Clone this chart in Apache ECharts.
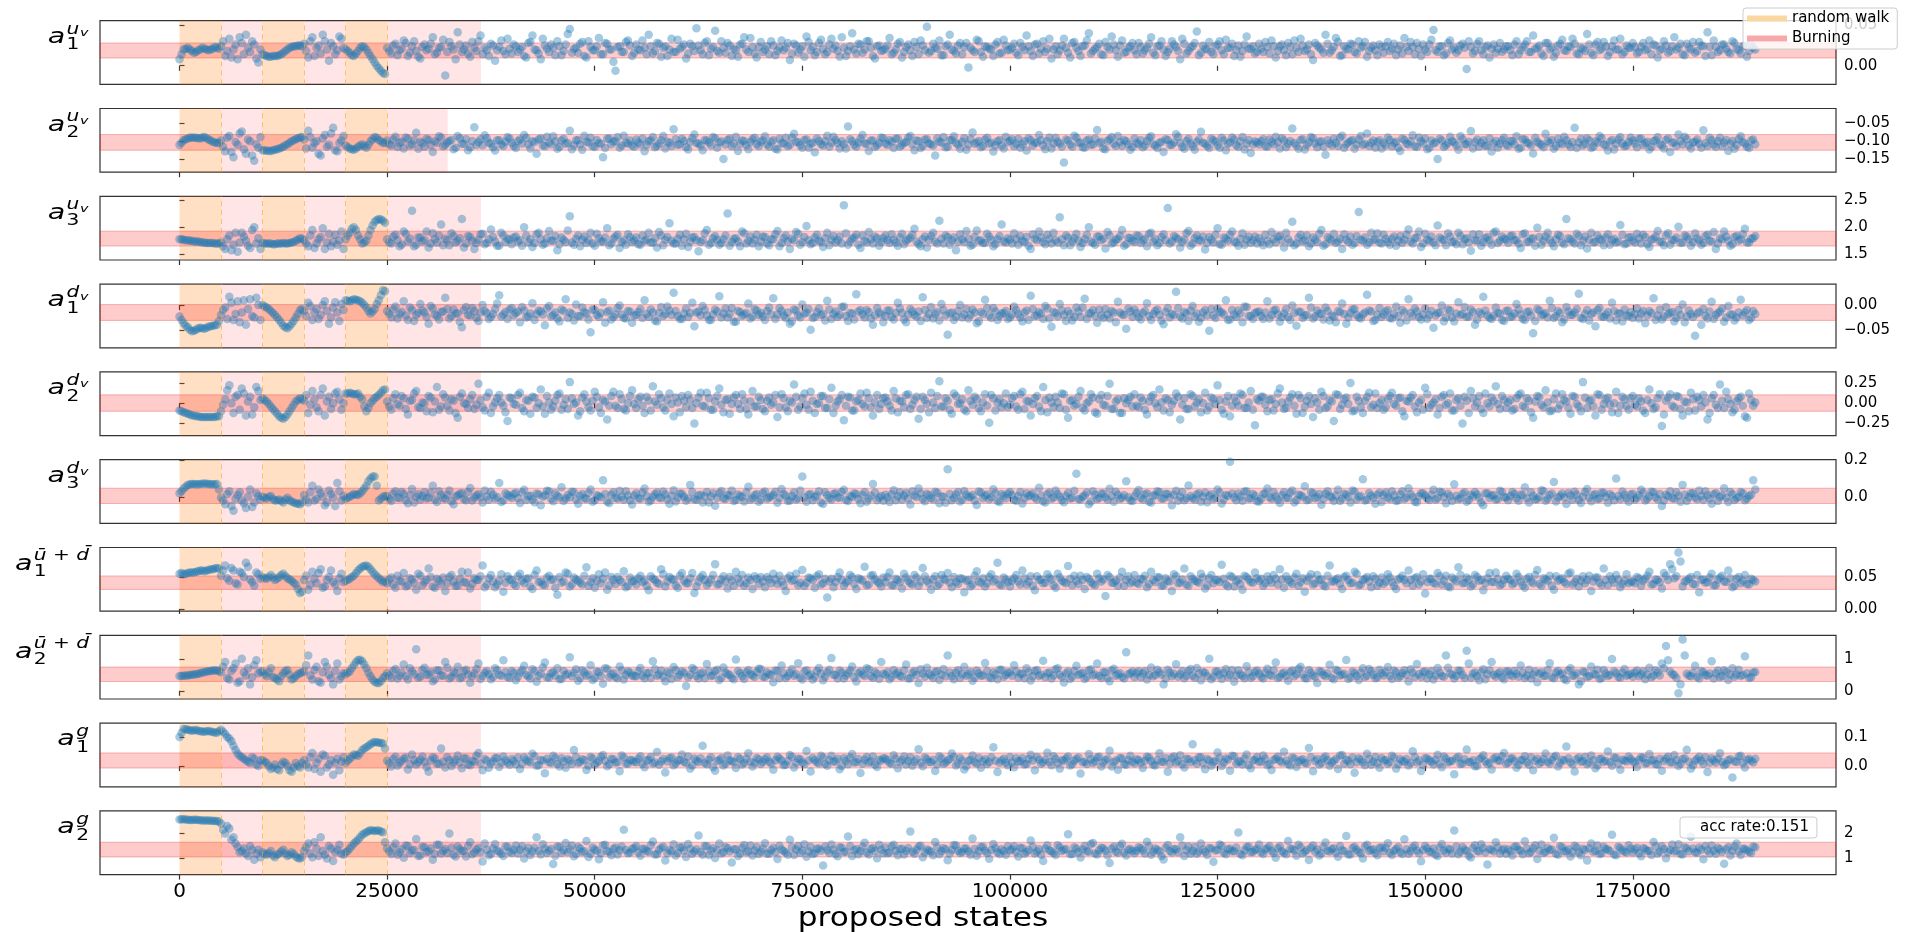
<!DOCTYPE html>
<html>
<head>
<meta charset="utf-8">
<title>MCMC parameter traces</title>
<script src="https://cdn.jsdelivr.net/npm/echarts@6/dist/echarts.min.js"></script>
<style>
  html, body { margin: 0; padding: 0; background: #fff; }
  #chart { width: 1907px; height: 932px; }
</style>
</head>
<body>
<div id="chart"></div>
<script>
// ---------------------------------------------------------------------------
// Data
// ---------------------------------------------------------------------------
// One sample is stored every STEP proposed states; the samples of each chain
// are kept in two arrays, the even slots (2i * STEP) and the odd slots
// ((2i + 1) * STEP).
const STEP = 250;

const xTicks = [0, 25000, 50000, 75000, 100000, 125000, 150000, 175000];
const xRange = [-9574, 199470];

// Sampler phases
const randomWalkSpans = [[0, 5000], [10000, 15000], [20000, 25000]];
const burningSpans = [[5000, 10000], [15000, 20000], [25000, null]];
const burningEnd = [36300, 32300, 36300, 36300, 36300, 36300, 36300, 36300, 36300, 36300];
const phaseEdges = [5000, 10000, 15000, 20000, 25000];

// Parameter names: a with a superscript (with its own index) and a subscript
const paramLabels = [
  { sup: 'u', supSub: 'v', sub: '1' },
  { sup: 'u', supSub: 'v', sub: '2' },
  { sup: 'u', supSub: 'v', sub: '3' },
  { sup: 'd', supSub: 'v', sub: '1' },
  { sup: 'd', supSub: 'v', sub: '2' },
  { sup: 'd', supSub: 'v', sub: '3' },
  { sup: 'ū + d\u0304', supSub: '', sub: '1' },
  { sup: 'ū + d\u0304', supSub: '', sub: '2' },
  { sup: 'g', supSub: '', sub: '1' },
  { sup: 'g', supSub: '', sub: '2' }
];

// Target band per parameter
const bandLow  = [0.0095, -0.125, 1.655, -0.031, -0.099, -0.036, 0.0305, 0.29, -0.007, 1.064];
const bandHigh = [0.028,  -0.081, 1.927,  0.001,  0.103,  0.047, 0.0515, 0.74,  0.045, 1.652];

// Y axes
const yMin = [-0.0229, -0.187, 1.40, -0.0866, -0.399, -0.144, -0.0036, -0.257, -0.0717, 0.36];
const yMax = [0.0553, -0.0075, 2.565, 0.0426, 0.386, 0.2016, 0.096, 1.733, 0.148, 2.904];
const yTicks = [
  [0.00, 0.05],
  [-0.15, -0.10, -0.05],
  [1.5, 2.0, 2.5],
  [-0.05, 0.00],
  [-0.25, 0.00, 0.25],
  [0.0, 0.2],
  [0.00, 0.05],
  [0, 1],
  [0.0, 0.1],
  [1, 2]
];
const yDecimals = [2, 2, 1, 2, 2, 1, 2, 0, 1, 0];

// Chain values, stored as integers; traceUnits gives the value of one unit.
const traceUnits = [0.001, 0.001, 0.01, 0.001, 0.01, 0.001, 0.001, 0.01, 0.001, 0.01];

const a1_uv_even = [
  8, 20, 22, 18, 17, 20, 21, 19, 21, 22,
  24, 12, 33, 20, 8, 28, 38, 17, 26, 4,
  14, 12, 11, 12, 13, 16, 20, 23, 24, 25,
  27, 10, 35, 22, 15, 30, 6, 24, 19, 33,
  20, 16, 12, 18, 24, 20, 12, 4, -3, -9,
  22, 15, 27, 19, 31, 12, 24, 18, 9, 26, 21, 35, 16, 23, -12, 29, 20, 41, 17, 25, 11, 22, 30, 14, 19, 27, 6, 23, 18, 33,
  15, 24, 20, 12, 28, 37, 19, 8, 25, 17, 22, 30, 13, 26, 45, 21, 16, 29, 10, 23, 19, 34, 14, 27, 20, -6, 24, 17, 31, 12,
  26, 19, 22, 38, 15, 28, 11, 24, 20, 17, 32, 23, 9, 27, 18, 25, 14, 30, 21, 43, 16, 22, 28, 12, 19, 26, 35, 17, 23, 10,
  29, 20, 14, 25, 18, 31, 22, 7, 27, 16, 24, 36, 19, 13, 28, 21, 17, 33, 25, 11, 22, 18, 40, 15, 26, 20, 30, 12, 24, 18,
  21, 34, 16, 27, 10, 23, 19, 29, 14, 25, 48, 18, 22, 31, 13, 26, 20, 15, 28, 23, -2, 19, 32, 17, 24, 21, 12, 29, 16, 25,
  20, 27, 13, 23, 37, 18, 26, 15, 30, 21, 9, 24, 19, 33, 16, 28, 22, 12, 25, 40, 18, 23, 14, 29, 20, 26, 11, 31, 17, 24,
  19, 28, 15, 22, 35, 13, 25, 20, 17, 30, 23, 8, 27, 18, 24, 42, 16, 21, 29, 14, 26, 19, 32, 22, 12, 25, 18, 36, 21, 15,
  27, 17, 23, 31, 10, 24, 19, 28, 14, 22, 33, 18, 26, 7, 25, 20, 38, 16, 23, 29, 13, 21, 27, 17, 30, 24, 11, 22, 19, 26,
  16, 29, 21, 13, 25, 34, 18, 23, 28, 12, 20, 26, 44, 17, 24, 15, 31, 22, 19, 27, -4, 23, 18, 30, 14, 25, 21, 16, 28, 20,
  24, 13, 30, 19, 26, 17, 37, 22, 15, 28, 20, 11, 25, 32, 18, 23, 27, 14, 21, 39, 16, 26, 19, 29, 12, 24, 20, 33, 17, 22,
  28, 15, 23, 19, 31, 26, 10, 21, 25, 18, 35, 22, 14, 27, 20, 16, 29, 24, 41, 13, 23, 19, 26, 17, 30, 21, 15, 25, 18, 22
];
const a1_uv_odd = [
  14, 21, 20, 16, 19, 22, 20, 20, 23, 21,
  30, 18, 10, 26, 35, 14, 22, 30, 9, 20,
  13, 11, 12, 12, 14, 18, 22, 24, 25, 24,
  18, 30, 12, 25, 38, 20, 28, 14, 36, 22,
  18, 13, 15, 22, 23, 16, 8, 0, -6, -10,
  18, 25, 13, 21, 28, 16, 30, 11, 23, 19, 27, 14, 22, 32, 17, 24, 8, 26, 20, 15, 29, 18, 37, 22, 12, 25, 19, 31, 14, 21,
  26, 17, 23, 10, 29, 20, 15, 33, 21, 26, 13, 24, 18, 39, 16, 22, 27, 12, 30, 19, 24, 14, 28, 20, 5, 23, 17, 29, 25, 16,
  20, 31, 14, 24, 18, 27, 22, 12, 33, 17, 21, 26, 15, 24, 46, 19, 28, 13, 23, 18, 30, 16, 25, 21, 11, 27, 20, 34, 15, 23,
  17, 24, 30, 13, 22, 19, 28, 15, 25, 20, 11, 29, 23, 17, 32, 14, 26, 21, 18, 35, 12, 24, 20, 27, 16, 30, 22, 9, 25, 19,
  25, 14, 20, 29, 17, 26, 12, 23, 31, 19, 16, 27, 21, 13, 24, 38, 18, 25, 14, 28, 22, 17, 30, 11, 23, 20, 26, 15, 32, 19,
  22, 16, 28, 19, 24, 12, 27, 21, 17, 33, 20, 14, 25, 22, 10, 29, 18, 24, 31, 15, 21, 27, 13, 23, 36, 19, 25, 16, 22, 28,
  14, 23, 19, 27, 16, 24, 30, 12, 21, 26, 18, 33, 15, 22, 28, 13, 25, 20, 17, 24, 30, 14, 22, 27, 19, 11, 26, 21, 24, 17,
  21, 29, 15, 24, 18, 26, 13, 23, 31, 17, 25, 20, 14, 28, 22, 16, 27, 19, 34, 12, 24, 20, 26, 15, 22, 29, 18, 25, 13, 23,
  24, 18, 27, 20, 15, 23, 29, 14, 21, 26, 17, 32, 19, 24, 13, 28, 20, 16, 25, 22, 30, 15, 27, 19, 23, 10, 26, 21, 17, 24,
  19, 26, 14, 23, 30, 17, 21, 25, 12, 28, 22, 16, 27, 19, 24, 33, 15, 22, 18, 26, 13, 29, 21, 24, 17, 31, 20, 14, 25, 22,
  23, 17, 28, 21, 14, 25, 19, 30, 16, 24, 20, 27, 13, 22, 29, 18, 25, 12, 23, 31, 17, 26, 21, 15, 28, 19, 24, 11, 27, 20
];

const a2_uv_even = [
  -110, -97, -92, -89, -90, -92, -88, -95, -101, -105,
  -98, -128, -85, -145, -110, -72, -135, -100, -155, -118,
  -125, -126, -127, -124, -120, -115, -108, -100, -94, -89,
  -95, -70, -118, -100, -140, -82, -110, -62, -128, -98,
  -112, -120, -124, -115, -108, -118, -100, -88, -96, -105,
  -98, -112, -87, -105, -120, -93, -108, -76, -101, -115, -96, -130, -104, -89, -110, -99, -122, -85, -107, -94, -117, -60, -102, -111, -91, -106, -126, -97, -113, -88,
  -104, -119, -95, -82, -109, -100, -135, -92, -114, -103, -86, -121, -98, -107, -70, -111, -96, -124, -101, -90, -116, -105, -145, -93, -108, -99, -118, -84, -106, -112,
  -95, -109, -128, -100, -88, -113, -97, -120, -104, -66, -110, -93, -117, -102, -81, -106, -125, -98, -111, -91, -103, -150, -96, -114, -87, -107, -99, -122, -94, -108,
  -101, -86, -115, -97, -123, -105, -90, -110, -79, -102, -118, -95, -107, -131, -99, -112, -84, -104, -96, -120, -108, -58, -100, -115, -93, -106, -127, -98, -111, -89,
  -106, -97, -119, -92, -110, -102, -85, -125, -99, -113, -94, -108, -140, -101, -88, -116, -96, -105, -121, -91, -109, -75, -103, -117, -95, -107, -129, -100, -112, -87,
  -99, -114, -93, -108, -126, -97, -104, -82, -111, -100, -120, -90, -106, -160, -98, -115, -89, -103, -118, -95, -109, -68, -101, -122, -94, -107, -85, -113, -100, -124,
  -92, -108, -117, -99, -86, -112, -104, -130, -96, -110, -80, -105, -121, -93, -114, -101, -73, -107, -119, -97, -111, -90, -125, -103, -95, -116, -88, -106, -133, -100,
  -109, -94, -115, -102, -87, -120, -98, -107, -64, -112, -96, -123, -103, -91, -117, -100, -138, -106, -93, -113, -84, -108, -99, -121, -95, -110, -78, -104, -118, -97,
  -105, -89, -114, -101, -127, -96, -109, -83, -116, -100, -92, -119, -106, -150, -98, -111, -87, -103, -124, -94, -108, -71, -102, -115, -97, -112, -129, -99, -107, -90,
  -113, -100, -86, -118, -95, -106, -134, -101, -110, -79, -104, -121, -93, -108, -97, -116, -62, -103, -112, -91, -119, -100, -85, -109, -126, -96, -107, -88, -114, -102,
  -98, -117, -92, -105, -123, -100, -88, -111, -96, -130, -103, -81, -109, -94, -120, -101, -107, -69, -113, -97, -116, -90, -104, -127, -99, -110, -86, -106, -119, -95
];
const a2_uv_odd = [
  -104, -94, -90, -90, -91, -89, -91, -98, -103, -104,
  -115, -90, -130, -102, -78, -122, -95, -140, -108, -88,
  -126, -127, -125, -122, -118, -111, -104, -97, -91, -88,
  -120, -88, -105, -135, -92, -115, -78, -125, -105, -85,
  -116, -122, -120, -112, -113, -110, -94, -90, -100, -104,
  -108, -95, -116, -101, -89, -112, -98, -121, -105, -93, -110, -100, -86, -114, -103, -96, -118, -91, -107, -125, -99, -110, -94, -83, -104, -117, -97, -109, -101, -92,
  -113, -99, -106, -90, -120, -102, -95, -111, -87, -108, -100, -116, -93, -105, -122, -97, -109, -84, -103, -114, -96, -107, -119, -92, -101, -88, -112, -104, -98, -115,
  -103, -92, -110, -97, -117, -106, -85, -101, -113, -94, -108, -99, -123, -91, -105, -112, -96, -104, -88, -118, -100, -109, -93, -107, -127, -98, -111, -102, -90, -114,
  -97, -109, -101, -121, -93, -106, -114, -89, -102, -111, -96, -118, -104, -92, -108, -99, -115, -87, -105, -100, -120, -94, -110, -103, -82, -107, -98, -116, -105, -91,
  -110, -101, -93, -115, -104, -89, -108, -98, -119, -95, -106, -112, -91, -103, -117, -97, -86, -109, -101, -124, -94, -107, -99, -113, -90, -104, -111, -96, -120, -102,
  -94, -107, -118, -100, -91, -112, -103, -97, -122, -89, -106, -101, -115, -95, -109, -84, -104, -117, -98, -110, -92, -105, -121, -99, -88, -113, -102, -96, -108, -116,
  -105, -97, -112, -90, -108, -119, -101, -94, -110, -103, -87, -116, -99, -107, -124, -95, -104, -113, -92, -101, -118, -98, -106, -89, -111, -100, -123, -96, -109, -103,
  -100, -114, -95, -108, -102, -91, -117, -99, -105, -121, -94, -110, -88, -106, -101, -115, -97, -112, -104, -90, -119, -103, -96, -109, -85, -107, -113, -98, -102, -120,
  -111, -96, -104, -118, -92, -107, -100, -114, -89, -106, -122, -98, -103, -93, -116, -105, -99, -111, -86, -108, -101, -120, -95, -104, -113, -91, -106, -118, -97, -110,
  -99, -108, -121, -94, -103, -112, -90, -106, -117, -100, -96, -113, -105, -87, -109, -102, -119, -93, -107, -98, -115, -104, -91, -111, -101, -123, -95, -106, -112, -89,
  -106, -93, -110, -101, -116, -97, -108, -120, -92, -104, -113, -99, -87, -111, -103, -95, -118, -105, -90, -109, -100, -114, -96, -107, -121, -94, -102, -115, -98, -108
];

const a3_uv_even = [
  178, 177, 176, 175, 174, 173, 172, 171, 171, 170,
  172, 160, 185, 168, 155, 190, 175, 162, 200, 180,
  171, 170, 170, 169, 170, 171, 170, 172, 175, 180,
  176, 165, 195, 170, 182, 160, 188, 174, 168, 192,
  178, 190, 200, 185, 170, 175, 195, 210, 215, 212,
  178, 170, 186, 165, 192, 174, 230, 168, 181, 176, 163, 189, 172, 205, 179, 167, 184, 175, 215, 170, 182, 160, 177, 188, 171, 196, 174, 166, 185, 179,
  169, 183, 176, 200, 172, 164, 187, 178, 170, 193, 175, 158, 181, 173, 220, 168, 185, 177, 171, 190, 166, 180, 174, 198, 170, 183, 162, 176, 187, 173,
  181, 168, 175, 190, 172, 163, 185, 177, 207, 170, 179, 166, 188, 174, 182, 156, 176, 195, 171, 184, 168, 178, 225, 173, 180, 165, 189, 175, 170, 186,
  174, 182, 167, 178, 193, 171, 185, 160, 176, 188, 173, 202, 169, 181, 175, 164, 190, 177, 172, 183, 240, 168, 179, 186, 162, 175, 191, 170, 180, 173,
  185, 171, 177, 166, 188, 175, 181, 197, 169, 178, 163, 184, 174, 212, 170, 182, 176, 158, 187, 173, 179, 168, 194, 176, 171, 183, 165, 178, 205, 172,
  177, 189, 168, 175, 182, 160, 179, 192, 173, 186, 170, 176, 218, 167, 181, 174, 188, 164, 178, 200, 171, 183, 176, 161, 185, 172, 179, 195, 169, 180,
  173, 184, 176, 165, 190, 178, 171, 187, 235, 174, 181, 163, 177, 193, 170, 185, 175, 159, 182, 172, 198, 168, 179, 186, 174, 166, 189, 177, 171, 183,
  180, 167, 175, 191, 172, 184, 163, 178, 210, 170, 186, 176, 165, 181, 173, 195, 169, 179, 188, 174, 160, 177, 183, 171, 228, 175, 168, 190, 178, 172,
  186, 173, 179, 166, 184, 177, 196, 170, 181, 164, 188, 175, 172, 203, 178, 167, 183, 174, 190, 169, 180, 157, 176, 187, 173, 182, 168, 192, 175, 179,
  171, 185, 176, 162, 189, 174, 180, 199, 168, 183, 177, 165, 186, 172, 215, 178, 170, 184, 175, 161, 190, 173, 179, 167, 187, 176, 172, 204, 169, 181,
  175, 188, 170, 182, 164, 179, 193, 173, 185, 168, 177, 201, 172, 183, 166, 189, 176, 171, 186, 174, 160, 180, 192, 175, 169, 184, 178, 197, 172, 180
];
const a3_uv_odd = [
  178, 176, 175, 174, 174, 172, 171, 171, 170, 170,
  165, 178, 158, 190, 172, 183, 166, 195, 170, 160,
  170, 170, 169, 170, 170, 170, 171, 173, 177, 179,
  170, 185, 162, 178, 198, 172, 165, 186, 176, 160,
  185, 197, 195, 178, 172, 185, 203, 213, 214, 208,
  172, 183, 176, 168, 188, 179, 165, 181, 174, 192, 170, 178, 185, 167, 176, 189, 172, 180, 163, 184, 175, 171, 187, 169, 178, 182, 166, 190, 173, 177,
  181, 174, 166, 185, 178, 171, 190, 168, 180, 175, 184, 169, 177, 194, 172, 179, 165, 183, 176, 170, 188, 174, 181, 167, 179, 186, 173, 168, 182, 176,
  169, 185, 177, 172, 180, 191, 167, 182, 175, 170, 186, 178, 164, 181, 176, 173, 189, 168, 180, 177, 171, 185, 166, 179, 174, 192, 170, 183, 177, 165,
  183, 170, 178, 187, 165, 180, 174, 179, 191, 168, 182, 176, 171, 186, 173, 180, 167, 184, 176, 170, 189, 174, 181, 168, 185, 172, 178, 183, 166, 180,
  176, 187, 172, 181, 169, 178, 186, 174, 165, 183, 177, 190, 170, 179, 185, 168, 181, 173, 178, 193, 166, 182, 175, 171, 188, 177, 169, 184, 174, 180,
  170, 178, 184, 173, 166, 187, 176, 181, 169, 179, 190, 172, 178, 185, 167, 180, 175, 171, 186, 174, 168, 183, 179, 191, 170, 177, 184, 166, 181, 175,
  185, 171, 179, 188, 174, 167, 182, 176, 170, 184, 178, 173, 189, 166, 180, 176, 183, 171, 177, 186, 169, 181, 175, 192, 172, 179, 168, 183, 176, 170,
  174, 186, 169, 178, 183, 176, 190, 172, 167, 181, 174, 185, 170, 177, 188, 166, 182, 175, 171, 179, 187, 173, 168, 184, 177, 181, 172, 176, 189, 170,
  179, 168, 183, 175, 171, 186, 174, 180, 192, 170, 177, 183, 167, 181, 176, 189, 173, 169, 184, 178, 172, 187, 175, 166, 180, 176, 190, 171, 183, 177,
  184, 176, 170, 187, 173, 179, 166, 182, 175, 190, 171, 178, 184, 169, 180, 174, 188, 167, 183, 177, 172, 185, 176, 181, 168, 179, 174, 186, 170, 182,
  172, 180, 186, 169, 177, 183, 174, 167, 189, 176, 181, 171, 185, 178, 173, 180, 168, 184, 175, 191, 170, 178, 183, 166, 182, 175, 187, 172, 179, 184
];

const a1_dv_even = [
  -23, -37, -45, -53, -50, -46, -48, -44, -42, -40,
  -20, -5, 17, -30, 8, -15, -40, 12, -25, 0,
  0, -5, -12, -20, -30, -42, -47, -38, -25, -10,
  -12, 5, -30, -8, -20, 8, -38, -5, -15, 2,
  10, 8, 12, 10, 5, -5, -17, -8, 10, 30,
  -12, -25, -3, -18, 8, -30, -10, -20, 2, -15, -38, -7, -22, -14, 15, -27, -9, -17, -45, -4, -21, -12, -32, 0, -16, -24, -8, 20, -19, -28,
  -6, -16, -35, -11, -23, 4, -18, -13, -41, -2, -20, -27, -9, 12, -15, -31, -22, -5, -17, -55, -10, -24, 6, -14, -29, -19, -1, -26, -12, -36,
  -20, -8, 10, -24, -15, -33, -4, -18, -11, 25, -22, -28, -7, -16, -43, -13, -2, -21, -30, -9, 18, -17, -25, -6, -34, -14, -19, 3, -23, -11,
  -16, -30, -5, 14, -19, -12, -26, -38, -9, -21, 1, -15, -50, -24, -7, -18, 9, -28, -13, -20, -3, -32, -17, 22, -10, -25, -14, -40, -6, -19,
  -22, -11, -29, 5, -16, -35, -8, -20, -13, 16, -26, -4, -18, -31, -10, -60, -15, -23, 0, -19, -27, -9, -37, -14, 11, -21, -6, -30, -17, -12,
  -25, -3, -18, -33, -11, 19, -22, -14, -28, -7, -44, -16, 2, -20, -12, -31, -5, -24, 13, -17, -10, -36, -21, -8, -27, -15, 7, -19, -48, -13,
  -9, -24, -16, 4, -30, -12, -20, -39, -6, -18, 27, -23, -14, -32, -2, -17, -26, -10, -52, -21, -7, -15, 10, -29, -19, -11, -35, -4, -22, -16,
  -13, -28, 8, -20, -9, -34, -17, -24, -1, -42, -14, -21, 15, -27, -11, -18, -5, -31, -23, -12, 3, -38, -16, -8, -25, -19, 21, -13, -30, -6,
  -19, -10, -27, -3, -36, -15, 12, -22, -13, -29, -7, -20, -46, -16, -1, -25, -11, -33, 6, -18, -24, -9, -40, -14, 17, -21, -28, -5, -17, -32,
  -11, -23, 2, -19, -30, -13, -57, -8, -21, -16, 9, -26, -12, -35, -4, -20, -15, 23, -28, -10, -18, -43, -6, -24, -14, 5, -31, -17, -9, -22,
  -26, -7, -17, -37, -12, 14, -21, -29, -4, -16, -33, -10, 1, -23, -18, -62, -14, -8, -27, 7, -20, -13, -34, -2, -19, -25, 11, -15, -30, -12
];
const a1_dv_odd = [
  -30, -42, -50, -52, -47, -47, -46, -43, -41, -32,
  -10, -28, 5, -18, -35, 10, -8, -22, 15, -30,
  -3, -8, -16, -25, -36, -45, -43, -32, -18, -8,
  -22, -2, -15, -28, 0, -12, -25, 6, -32, -10,
  9, 10, 11, 8, 0, -12, -13, 2, 20, 28,
  -18, -9, -27, -14, -21, -5, -32, -16, -11, -24, -2, -19, -29, -13, -8, -22, -17, -34, -10, -20, -6, -26, -15, -12, -28, -18, 3, -23, -14, -9,
  -21, -13, -4, -25, -17, -30, -11, -19, -7, -23, -15, -33, -12, -26, -18, 1, -22, -14, -29, -9, -20, -16, -36, -11, -24, -6, -19, -27, -13, -21,
  -14, -26, -18, -9, -31, -16, -22, -3, -20, -12, -28, -17, -24, 5, -15, -21, -10, -30, -19, -13, -25, -7, -18, -34, -12, -22, -16, -27, -8, -20,
  -23, -12, -19, -28, -6, -21, -15, -33, -11, -25, -17, -8, -26, -14, -20, -31, -9, -18, -24, -4, -22, -16, -29, -13, -19, -10, -27, -21, -15, -35,
  -11, -24, -16, -7, -29, -19, -13, -23, -32, -10, -18, -27, -14, 2, -21, -17, -30, -12, -25, -8, -20, -15, -33, -18, -6, -26, -13, -22, -16, -28,
  -19, -10, -25, -15, -30, -8, -21, -17, -2, -27, -14, -23, -11, -32, -18, -24, -13, -5, -28, -16, -22, -9, -26, -19, -12, -35, -15, -20, -7, -24,
  -16, -29, -12, -22, -18, -9, -31, -14, -25, -20, -6, -27, -17, -11, -23, -34, -15, -21, -8, -26, -13, -19, -30, -10, -24, -17, -3, -22, -28, -14,
  -22, -15, -27, -11, -19, -24, -8, -30, -16, -13, -26, -20, -5, -23, -17, -29, -12, -21, -35, -14, -18, -25, -9, -20, -27, -15, -11, -32, -19, -24,
  -13, -26, -18, -22, -10, -31, -16, -7, -24, -19, -28, -12, -21, -15, -33, -9, -25, -17, -20, -4, -23, -14, -29, -18, -11, -26, -21, -16, -30, -12,
  -24, -17, -9, -28, -14, -21, -32, -11, -19, -25, -6, -22, -16, -29, -13, -20, -8, -26, -18, -31, -15, -10, -23, -19, -27, -12, -17, -33, -21, -14,
  -18, -27, -12, -21, -16, -30, -9, -23, -19, -14, -26, -20, -35, -11, -24, -17, -40, -22, -13, -28, -16, -7, -25, -19, -31, -15, -21, -10, -26, -18
];

const a2_dv_even = [
  -9, -11, -13, -15, -16, -17, -17, -17, -17, -16,
  -10, 5, 22, -12, 10, 18, -15, 8, -5, 15,
  6, 2, -4, -10, -16, -19, -14, -6, 2, 6,
  3, -12, 15, -5, 10, -15, 8, 0, 14, -8,
  12, 13, 11, 12, 5, -10, 0, 6, 10, 16,
  2, -8, 11, -3, 6, -14, 4, 15, -6, 0, 9, -11, 20, -4, 7, -9, 3, -18, 12, -1, 5, -7, 24, -5, 8, -12, 1, 10, -3, -22,
  6, -2, 13, -10, 3, 8, -6, 17, -13, 1, -4, 10, -8, 5, 26, -1, -15, 7, 2, -9, 14, -5, 4, -20, 9, -3, 11, -7, 0, 16,
  -6, 8, -12, 3, 21, -2, 6, -9, 12, -16, 1, 9, -5, 4, -25, 7, -3, 13, -8, 2, 18, -11, 5, -1, 10, -7, 3, -14, 15, -4,
  4, -10, 7, 1, -17, 11, -5, 3, 23, -8, 6, -2, 14, -12, 0, 9, -6, 19, -3, 5, -21, 8, -9, 2, 12, -4, 6, -15, 10, -1,
  7, -3, 15, -11, 2, 10, -7, 4, -19, 8, -1, 13, -6, 27, -4, 3, -13, 9, 0, -8, 16, -2, 5, -10, 11, -24, 6, 1, -5, 12,
  -2, 9, -8, 14, 3, -15, 6, -4, 20, -11, 1, 8, -6, 11, -18, 4, -1, 15, -9, 2, 7, -13, 10, -3, 24, -7, 5, -12, 0, 8,
  11, -5, 3, -14, 8, 0, 17, -9, 4, -2, 12, -20, 6, -7, 9, 1, -11, 13, -4, 5, 22, -8, 2, -16, 7, -3, 10, -6, 15, -27,
  3, 8, -10, 5, -1, 18, -7, 2, 11, -13, 6, -4, 9, -17, 1, 14, -6, 4, -22, 10, -2, 7, 25, -9, 3, -12, 8, -5, 12, 0,
  -8, 5, 13, -3, 7, -16, 2, 10, -11, 4, 19, -6, 1, -14, 8, -2, 12, -9, 6, -25, 3, 15, -4, 9, -12, 0, 7, 21, -7, 4,
  1, -9, 6, 12, -5, 3, -18, 9, -2, 16, -10, 5, -7, 11, 2, -13, 8, -4, 26, -6, 4, -15, 10, -1, 7, -11, 14, -3, 5, -8,
  9, -4, 2, -12, 17, -7, 6, -28, 3, 11, -5, 8, -15, 1, 13, -9, 4, 10, -20, 6, -2, 23, -6, 5, -11, 2, 8, -16, 12, -3
];
const a2_dv_odd = [
  -10, -12, -14, -15, -16, -17, -17, -17, -17, -16,
  -2, 16, 0, 8, -8, 12, 2, -14, 20, 4,
  4, -1, -7, -13, -18, -17, -10, -2, 4, 5,
  10, -2, 5, -10, 18, 2, -7, 12, 5, 0,
  12, 12, 11, 8, -4, -6, 3, 8, 13, 17,
  -4, 6, -1, 9, -7, 3, 12, -5, 1, -10, 7, 2, -8, 11, -3, 5, -12, 8, 0, -6, 10, -2, 4, -9, 13, -4, 6, 1, -11, 7,
  -1, 10, -6, 4, -13, 7, 0, -4, 9, -8, 3, 12, -2, -7, 6, 1, -10, 11, -5, 3, 8, -12, 2, -3, 14, -6, 5, -9, 9, -1,
  5, -3, 8, -9, 2, 11, -5, 4, -1, 7, -11, 3, 10, -6, 0, 13, -4, 6, -8, 9, -2, 4, -13, 7, -1, 11, -7, 2, -4, 8,
  -7, 3, -2, 10, -5, 6, -10, 1, 8, -4, 12, -8, 3, -1, 9, -6, 5, -12, 2, 10, -3, 7, -9, 4, -1, 13, -5, 1, -7, 6,
  2, -9, 6, 3, -5, 11, -2, 8, -7, 4, -11, 1, 9, -4, 6, -8, 12, -1, 5, -10, 3, 8, -6, 1, -3, 10, -9, 5, 0, -5,
  6, -4, 11, -7, 2, -1, 9, -10, 4, 7, -5, 1, 12, -8, 3, -3, 8, -6, 0, 11, -11, 5, -2, 9, -7, 2, -12, 6, 4, -4,
  -3, 7, -8, 2, 10, -5, 1, 6, -11, 3, 8, -2, -7, 11, -4, 5, 0, -9, 7, -1, 4, -13, 9, -3, 2, 12, -6, 1, -8, 5,
  8, -2, 4, -9, 12, 1, -6, 7, -3, 10, -12, 3, -1, 6, -8, 9, -4, 2, 11, -7, 5, -1, -10, 8, -5, 3, 13, -2, -6, 4,
  -5, 9, -1, 6, -10, 3, 7, -4, 1, -8, 11, -2, 5, -6, 10, 0, -9, 4, -3, 8, -12, 6, 1, -7, 12, -4, 3, -1, 9, -6,
  4, -7, 10, -3, 6, -11, 2, 8, -5, 1, -9, 12, -2, 4, -6, 9, -1, -10, 7, 3, -4, 11, -8, 5, -2, 0, -12, 8, -3, 6,
  -2, 6, -9, 4, 0, -5, 11, -14, 7, -3, 9, -7, 2, -10, 5, 8, -4, 1, -12, 10, -6, 3, 14, -1, -8, 6, -3, -18, 4, 1
];

const a3_dv_even = [
  20, 45, 65, 70, 68, 70, 72, 70, 68, 70,
  -5, -40, 30, -75, 10, -20, -60, 40, -30, 5,
  0, -10, 5, -20, -15, -30, -5, -25, -35, -40,
  10, -30, 60, -10, 20, -45, 35, -5, 75, -20,
  -10, 0, 15, 10, 30, 60, 100, 110, -20, 0,
  5, -22, 30, -8, 16, -35, 42, 0, -15, 25, -5, 60, -28, 10, -12, 35, -40, 8, 20, -18, 48, -3, 14, -30, 2, 28, -10, 75, -20, 12,
  -6, 22, -33, 38, 4, -14, 18, -45, 9, 30, -24, 6, 52, -9, -2, 26, -37, 15, -12, 40, -19, 3, 90, -27, 11, -5, 33, -16, 7, -42,
  19, -11, 45, -26, 1, 24, -7, 13, -38, 36, -3, 17, -21, 65, -13, 8, -30, 27, 2, -48, 21, -9, 10, 34, -17, 4, -25, 55, -6, 15,
  -14, 29, -4, 11, -32, 43, 6, -20, 23, -8, 110, -27, 16, -1, 31, -39, 9, -15, 20, -5, 38, -23, 0, 14, -34, 26, -10, 70, -18, 5,
  12, -28, 36, 3, -16, 21, -41, 8, 46, -11, 17, -6, 28, -35, 1, 150, -19, 13, -25, 32, -2, 10, -44, 24, 6, -13, 41, -22, 15, -8,
  27, -17, 4, -36, 19, 9, -3, 50, -24, 14, -10, 35, 0, -29, 22, -6, 125, -15, 7, -40, 30, -12, 18, -2, 44, -26, 11, -5, 85, -20,
  3, 37, -14, 20, -31, 8, 26, -9, 16, -46, 33, 1, -18, 62, -7, 13, -27, 23, 5, -12, 40, -36, 10, 190, -4, 18, -21, 30, -8, 6,
  -25, 15, 45, -11, 2, -33, 25, -6, 34, -19, 9, 58, -14, 21, -2, -43, 17, 4, -23, 38, -9, 12, -30, 29, 0, 95, -16, 7, -38, 22,
  10, -4, 31, -22, 14, -12, 47, -1, -29, 19, 6, -17, 39, -8, 24, -35, 3, 68, -13, 16, -26, 11, 27, -5, -45, 20, 8, -15, 33, -2,
  -18, 26, -7, 13, 52, -30, 4, -11, 36, -21, 9, 80, -3, 18, -39, 7, 28, -16, 1, 43, -24, 15, -9, 22, -32, 5, 100, -13, 11, -27,
  17, -6, 38, -20, 3, 25, -14, -50, 12, 30, -10, 6, 65, -23, 19, -4, 34, -17, 9, -37, 21, -1, 47, -28, 14, -8, 27, -19, 5, 90
];
const a3_dv_odd = [
  30, 55, 68, 70, 69, 71, 71, 69, 69, 40,
  -20, 15, -50, -10, 25, -35, 0, -55, 20, -15,
  -5, 0, -12, -18, -22, -15, -18, -30, -38, -30,
  -15, 25, -20, 40, 0, -30, 15, -50, 30, 5,
  -5, 8, 12, 20, 45, 85, 110, 60, -10, 5,
  -12, 18, -3, 27, -19, 9, -30, 14, 4, -9, 22, -15, 31, -6, 11, -24, 2, 17, -11, 26, -20, 7, -4, 35, -16, 12, -1, -28, 20, 3,
  15, -8, 24, -17, 6, -29, 13, 0, 33, -12, 19, -4, -22, 10, 28, -14, 5, -7, 21, -26, 9, -2, 16, -33, 25, -10, 1, 30, -18, 8,
  -7, 23, 4, -20, 14, -3, 29, -13, 6, -25, 18, 0, -9, 26, -16, 11, 3, -31, 20, -5, 32, -11, 7, -22, 13, -1, 24, -15, 9, -27,
  21, -10, 2, 28, -6, 16, -23, 5, -14, 34, -2, 12, -19, 8, -30, 25, -8, 15, -3, 27, -17, 4, 19, -12, 10, -26, 6, 23, -5, -21,
  -3, 14, -18, 25, 7, -9, 31, -1, 18, -24, 9, -13, 22, 2, -32, 16, -6, 27, -15, 11, 0, -20, 29, -8, 13, -2, 20, -28, 6, 17,
  10, -21, 26, -7, 3, 19, -14, 8, -30, 23, -4, 15, -18, 6, -9, 33, -12, 1, 24, -25, 12, -6, 18, -16, 5, 28, -11, 9, -2, -23,
  22, -5, 13, -27, 7, 30, -10, 17, -3, 11, -21, 26, -8, 4, -15, 20, 0, -29, 14, -4, 24, -13, 6, 18, -19, 2, 29, -9, 15, -24,
  -10, 19, -2, 27, -16, 9, -6, 22, -31, 12, 1, -18, 25, -7, 16, -12, 31, -3, 8, -23, 17, -1, 35, -14, 5, -20, 21, -5, 11, -28,
  24, -12, 7, -19, 30, -4, 14, -26, 3, 20, -9, 11, -15, 28, -1, 17, -22, 6, -8, 25, -17, 2, 13, -30, 19, -6, 9, -11, 26, -3,
  4, 16, -21, 9, -7, 25, -14, 1, 32, -10, 18, -25, 6, -3, 21, -16, 12, -33, 27, -5, 10, -12, 23, -1, 15, -19, 4, 29, -8, 13,
  -15, 7, 22, -11, 28, -4, 16, -20, 3, -8, 25, -26, 11, -2, 19, -13, 5, 31, -9, 14, -22, 8, -5, 26, -17, 1, 20, -10, 12, 40
];

const a1_ubar_dbar_even = [
  55, 54, 56, 57, 58, 60, 59, 61, 62, 64,
  52, 68, 44, 60, 38, 56, 72, 46, 36, 54,
  50, 47, 53, 45, 50, 55, 48, 44, 38, 25,
  45, 30, 58, 40, 62, 35, 50, 42, 28, 55,
  44, 47, 52, 60, 66, 68, 62, 54, 48, 42,
  40, 49, 33, 44, 56, 37, 46, 30, 52, 42, 63, 35, 47, 39, 28, 50, 43, 36, 58, 41, 32, 48, 45, 68, 38, 53, 34, 44, 27, 51,
  45, 36, 55, 40, 48, 31, 60, 43, 37, 52, 46, 22, 41, 57, 35, 49, 44, 38, 65, 42, 33, 54, 47, 30, 50, 39, 45, 59, 36, 43,
  38, 52, 44, 29, 47, 41, 62, 35, 50, 45, 33, 56, 40, 48, 25, 43, 53, 37, 46, 70, 39, 51, 32, 44, 58, 41, 36, 49, 31, 47,
  50, 34, 46, 55, 39, 43, 28, 52, 45, 37, 61, 41, 48, 33, 54, 40, 18, 47, 42, 57, 36, 44, 50, 31, 46, 66, 38, 53, 43, 35,
  42, 57, 37, 45, 32, 49, 40, 53, 36, 64, 44, 30, 51, 39, 47, 56, 34, 42, 48, 26, 45, 38, 59, 41, 35, 50, 43, 72, 37, 46,
  35, 48, 43, 60, 38, 51, 29, 45, 40, 54, 46, 33, 49, 42, 67, 37, 44, 52, 31, 47, 39, 55, 43, 20, 50, 41, 36, 58, 45, 40,
  53, 39, 46, 34, 58, 42, 49, 37, 44, 28, 51, 41, 63, 36, 47, 43, 55, 32, 48, 40, 45, 69, 38, 52, 35, 46, 30, 50, 42, 57,
  44, 36, 51, 41, 47, 62, 33, 45, 39, 55, 42, 27, 49, 38, 53, 46, 35, 68, 43, 48, 31, 52, 40, 58, 37, 45, 50, 34, 47, 41,
  39, 54, 42, 31, 48, 45, 60, 36, 50, 43, 24, 47, 41, 56, 38, 52, 34, 46, 65, 40, 49, 35, 53, 44, 29, 48, 42, 57, 37, 45,
  47, 38, 55, 43, 33, 50, 40, 61, 36, 46, 52, 30, 44, 48, 39, 57, 42, 35, 51, 45, 28, 49, 41, 63, 37, 46, 53, 34, 44, 40,
  43, 50, 36, 47, 58, 39, 45, 32, 52, 70, 48, 88, 35, 44, 50, 38, 26, 46, 42, 55, 37, 49, 43, 60, 34, 47, 40, 53, 38, 45
];
const a1_ubar_dbar_odd = [
  56, 55, 57, 57, 59, 60, 60, 62, 63, 63,
  60, 48, 64, 40, 58, 50, 66, 42, 57, 47,
  48, 50, 49, 47, 53, 51, 46, 41, 31, 27,
  52, 38, 47, 56, 33, 45, 60, 38, 48, 42,
  45, 50, 56, 63, 67, 66, 58, 51, 45, 43,
  46, 38, 52, 43, 35, 48, 41, 55, 37, 45, 50, 33, 44, 49, 40, 53, 36, 47, 42, 57, 39, 45, 51, 34, 48, 43, 38, 54, 41, 46,
  39, 51, 44, 47, 35, 53, 42, 38, 49, 45, 33, 50, 43, 55, 38, 46, 41, 52, 36, 48, 44, 40, 57, 37, 45, 50, 42, 34, 49, 44,
  48, 42, 36, 51, 45, 39, 54, 43, 47, 37, 52, 44, 40, 56, 35, 49, 45, 41, 53, 38, 46, 43, 50, 36, 47, 53, 40, 45, 51, 39,
  43, 50, 40, 46, 52, 37, 48, 44, 55, 41, 36, 49, 45, 51, 38, 47, 43, 34, 50, 45, 41, 53, 39, 48, 44, 37, 52, 46, 40, 49,
  50, 37, 47, 42, 55, 44, 38, 49, 43, 51, 40, 46, 36, 53, 45, 41, 50, 39, 47, 44, 35, 52, 43, 48, 40, 54, 46, 38, 49, 42,
  44, 53, 38, 48, 43, 36, 51, 46, 41, 49, 37, 55, 44, 40, 47, 52, 39, 45, 50, 42, 37, 48, 46, 53, 41, 44, 49, 36, 51, 43,
  41, 47, 52, 39, 45, 50, 36, 48, 43, 54, 40, 46, 38, 51, 44, 41, 49, 37, 53, 45, 42, 47, 35, 50, 44, 39, 52, 46, 41, 48,
  47, 40, 45, 53, 38, 46, 51, 42, 49, 36, 48, 44, 54, 40, 45, 37, 52, 43, 46, 39, 50, 45, 41, 55, 38, 47, 43, 51, 36, 49,
  43, 49, 36, 46, 52, 40, 45, 48, 38, 54, 42, 47, 39, 51, 44, 35, 49, 43, 53, 41, 46, 38, 50, 45, 40, 56, 42, 47, 39, 52,
  45, 41, 50, 37, 47, 43, 53, 39, 48, 44, 36, 51, 46, 42, 55, 38, 47, 44, 40, 52, 43, 49, 37, 45, 51, 41, 46, 39, 54, 43,
  40, 48, 44, 52, 38, 46, 42, 56, 45, 62, 51, 74, 43, 47, 39, 53, 45, 41, 49, 37, 46, 52, 42, 48, 36, 50, 44, 39, 47, 43
];

const a2_ubar_dbar_even = [
  46, 47, 48, 50, 52, 55, 58, 61, 63, 63,
  58, 90, 35, 70, 25, 100, 48, 20, 80, 55,
  60, 45, 70, 40, 30, 55, 65, 35, 45, 55,
  60, 110, 35, 75, 25, 90, 50, 20, 85, 45,
  52, 60, 80, 96, 92, 70, 45, 28, 24, 40,
  55, 40, 68, 47, 82, 35, 60, 130, 44, 72, 52, 30, 64, 48, 90, 38, 58, 75, 42, 66, 25, 54, 85, 46, 61, 36, 70, 50, 95, 43,
  62, 33, 57, 78, 45, 67, 28, 53, 88, 41, 59, 70, 37, 49, 105, 56, 31, 64, 47, 80, 40, 58, 22, 69, 51, 43, 76, 35, 60, 48,
  45, 71, 39, 56, 92, 47, 63, 30, 54, 74, 42, 60, 15, 50, 66, 38, 57, 84, 46, 61, 34, 73, 52, 41, 98, 55, 37, 65, 48, 59,
  68, 43, 52, 27, 62, 79, 40, 56, 47, 86, 35, 64, 51, 44, 71, 33, 58, 102, 49, 63, 38, 55, 76, 29, 60, 46, 67, 41, 53, 90,
  50, 36, 65, 57, 44, 82, 39, 61, 24, 54, 72, 48, 59, 34, 68, 110, 45, 57, 40, 75, 52, 31, 63, 47, 87, 42, 58, 36, 66, 49,
  57, 80, 41, 53, 70, 32, 62, 46, 94, 55, 38, 67, 50, 26, 60, 44, 78, 53, 37, 64, 48, 85, 40, 58, 30, 69, 51, 43, 120, 55,
  42, 61, 54, 35, 73, 49, 58, 20, 66, 45, 83, 52, 39, 62, 47, 71, 33, 56, 100, 44, 60, 37, 68, 50, 28, 64, 46, 77, 41, 59,
  53, 38, 69, 47, 88, 43, 57, 31, 63, 52, 75, 40, 65, 48, 24, 59, 45, 81, 36, 62, 50, 96, 42, 55, 34, 70, 47, 61, 39, 66,
  48, 74, 37, 58, 45, 64, 29, 56, 84, 43, 60, 51, 35, 71, 46, 110, 54, 38, 63, 49, 125, 41, 57, 33, 67, 52, 90, 44, 59, 36,
  61, 45, 53, 79, 40, 66, 50, 27, 58, 47, 86, 39, 62, 54, 33, 70, 48, 20, 60, 43, 76, 51, 37, 65, 46, 99, 55, 41, 68, 50,
  44, 63, 52, 36, 72, 48, 57, 85, 140, 60, 49, -8, 160, 53, 45, 78, 38, 59, 47, 92, 55, 42, 64, 34, 70, 51, 46, 108, 40, 57
];
const a2_ubar_dbar_odd = [
  46, 48, 49, 51, 53, 57, 60, 62, 63, 62,
  75, 40, 62, 85, 30, 58, 70, 42, 95, 60,
  52, 58, 43, 35, 45, 62, 50, 38, 52, 58,
  80, 48, 65, 30, 58, 75, 40, 62, 35, 55,
  56, 70, 90, 97, 82, 56, 35, 24, 30, 45,
  48, 62, 38, 57, 45, 70, 52, 41, 66, 49, 58, 35, 63, 47, 72, 43, 55, 39, 61, 50, 45, 68, 37, 56, 52, 43, 64, 47, 59, 40,
  56, 44, 65, 50, 38, 61, 47, 73, 42, 55, 48, 36, 62, 53, 45, 67, 40, 58, 51, 34, 60, 46, 70, 43, 55, 39, 63, 49, 57, 45,
  61, 47, 55, 40, 68, 51, 44, 59, 37, 64, 49, 56, 42, 71, 46, 53, 39, 60, 48, 66, 41, 57, 50, 36, 62, 45, 58, 52, 43, 69,
  44, 58, 49, 63, 39, 55, 46, 68, 52, 41, 60, 47, 35, 62, 54, 44, 66, 50, 38, 57, 48, 63, 42, 55, 51, 70, 45, 59, 37, 53,
  59, 43, 52, 46, 63, 38, 56, 49, 67, 44, 53, 40, 61, 50, 45, 57, 36, 64, 52, 47, 59, 41, 55, 48, 62, 39, 51, 66, 44, 57,
  47, 60, 53, 39, 58, 45, 65, 50, 42, 57, 48, 70, 44, 54, 37, 61, 49, 56, 43, 67, 51, 46, 58, 40, 63, 47, 55, 38, 52, 60,
  55, 42, 61, 49, 45, 66, 51, 38, 57, 53, 44, 62, 47, 68, 41, 54, 59, 46, 36, 60, 50, 56, 43, 65, 48, 52, 39, 58, 45, 63,
  43, 57, 50, 64, 40, 53, 47, 59, 45, 69, 51, 38, 56, 44, 62, 49, 55, 41, 66, 48, 53, 37, 60, 46, 57, 43, 68, 50, 42, 55,
  58, 46, 63, 41, 55, 50, 67, 43, 52, 59, 38, 61, 48, 56, 44, 72, 50, 47, 62, 40, 85, 53, 45, 58, 36, 64, 49, 54, 42, 60,
  50, 62, 44, 56, 48, 38, 60, 53, 46, 65, 42, 57, 51, 37, 63, 47, 55, 30, 58, 45, 52, 66, 40, 54, 49, 61, 43, 57, 47, 53,
  57, 45, 60, 50, 42, 64, 48, 70, 95, 52, 40, 20, 110, 47, 56, 43, 61, 49, 54, 38, 63, 46, 58, 51, 44, 66, 49, 55, 42, 59
];

const a1_g_even = [
  100, 128, 125, 122, 124, 120, 118, 121, 117, 115,
  125, 110, 95, 70, 43, 30, 20, 10, 25, 0,
  20, 10, -10, 5, -15, 15, 0, -20, 10, -5,
  20, -5, 45, 10, -20, 35, 5, -30, 25, 15,
  10, 25, 40, 35, 55, 65, 75, 83, 80, 78,
  18, -2, 32, 10, 25, -12, 40, 5, 22, 14, -20, 30, 8, 60, -5, 20, 12, 36, -8, 26, 3, 15, 45, -15, 19, 9, 28, -3, 33, 11,
  24, 6, -10, 30, 16, 42, 1, 21, -25, 13, 35, 7, 27, -6, 18, 55, 10, 23, -14, 31, 4, 17, 38, -1, 25, 12, -18, 29, 8, 20,
  13, 34, -4, 22, 9, 48, 16, -22, 27, 3, 19, 40, 11, -9, 26, 14, 70, 6, 30, -16, 21, 2, 36, 17, -7, 24, 10, 44, -2, 28,
  7, 23, 15, -13, 32, 19, 4, 38, -5, 25, 12, 52, -19, 20, 9, 29, 1, 35, 16, -11, 27, 6, 41, 14, -24, 22, 11, 33, -3, 18,
  26, 10, 37, -8, 21, 5, 30, 15, 58, -1, 24, 13, -17, 34, 8, 19, 43, 2, 28, -12, 17, 36, 9, -6, 23, 14, 65, -21, 20, 11,
  31, -4, 16, 27, 7, 39, -15, 22, 12, 46, 3, 25, -9, 18, 33, 6, 24, -26, 15, 41, 10, 29, -2, 20, 53, 13, -13, 26, 4, 35,
  9, 21, -7, 32, 17, 2, 44, 14, -20, 28, 11, 37, -5, 23, 75, 8, 30, -11, 19, 13, 47, 0, 26, -16, 34, 15, 5, 40, -8, 22,
  14, 36, 3, -14, 25, 18, 49, 7, 29, -3, 20, 11, 62, -18, 24, 10, 33, 1, 17, -10, 38, 22, 6, -23, 27, 13, 42, 4, 31, -6,
  19, 8, 35, -9, 24, 15, 2, 51, 12, -17, 28, 20, 5, 39, -4, 26, 16, -28, 32, 9, 57, 13, -1, 23, 37, 7, -12, 30, 18, 45,
  11, 27, -6, 20, 34, 4, -15, 25, 14, 43, 8, 31, -2, 22, 67, 12, -19, 29, 17, 6, 36, -8, 24, 15, 50, 1, 28, -13, 19, 33,
  16, -3, 30, 9, 41, 21, 5, -16, 26, 13, 38, 0, 23, 56, -9, 18, 32, 7, -21, 27, 11, 44, 3, 20, -40, 14, 35, -5, 25, 12
];
const a1_g_odd = [
  115, 127, 123, 123, 122, 119, 120, 119, 116, 120,
  118, 100, 85, 55, 35, 25, 15, 30, 5, 20,
  15, 0, -5, -10, 5, 10, -15, -5, 0, 10,
  5, 30, -10, 25, 40, -5, 20, 10, -15, 30,
  18, 32, 38, 45, 60, 70, 80, 82, 79, 60,
  10, 24, 2, 17, 29, 6, 21, 13, 33, -3, 19, 26, 8, 15, 30, 0, 22, 12, 27, 5, 18, 35, 9, 24, -6, 16, 28, 11, 20, 4,
  17, 29, 8, 22, 12, 34, 3, 19, 25, 10, 28, -2, 16, 23, 7, 31, 14, 20, 1, 26, 11, 32, 18, 6, 23, 13, 36, 9, 21, 15,
  25, 7, 19, 31, 12, 4, 24, 16, 29, 9, 21, 14, 33, 2, 18, 27, 10, 22, -4, 17, 28, 8, 20, 13, 30, 5, 25, 15, 11, 23,
  14, 30, 9, 20, 26, 3, 17, 32, 11, 23, 6, 19, 28, 13, 35, 7, 21, 15, 25, 0, 18, 29, 12, 24, 8, 31, 16, 4, 22, 27,
  20, 8, 26, 14, 33, 17, 1, 23, 10, 29, 15, 21, 6, 27, 12, 24, 31, 9, 19, -1, 22, 13, 28, 16, 7, 30, 18, 11, 25, 3,
  12, 27, 16, 5, 24, 19, 31, 8, 22, 14, 34, 10, 20, 26, 2, 18, 29, 13, 7, 23, 16, 32, 11, 25, -2, 19, 28, 6, 21, 15,
  23, 11, 18, 29, 4, 21, 15, 27, 9, 33, 17, 6, 25, 13, 20, 30, 10, 24, 1, 18, 28, 12, 22, 35, 8, 16, 26, 3, 19, 31,
  16, 25, 7, 21, 32, 12, 19, 2, 26, 14, 23, 9, 30, 17, 5, 27, 20, 11, 24, 36, 8, 18, 29, 13, 22, 3, 25, 15, 10, 28,
  21, 13, 29, 6, 17, 24, 10, 31, 19, 4, 26, 15, 22, 9, 33, 12, 18, 27, 7, 23, 14, 20, 0, 28, 16, 11, 25, 19, 34, 8,
  26, 17, 4, 22, 12, 30, 18, 8, 25, 14, 21, 35, 10, 19, 27, 6, 23, 15, 31, 11, 20, 2, 26, 17, 13, 29, 9, 22, 16, 24,
  13, 22, 28, 10, 19, 6, 25, 17, 32, 12, 21, 8, 27, 15, 3, 24, 18, 30, 11, 20, 26, 14, 7, 23, 16, 33, 10, 21, 18, 25
];

const a2_g_even = [
  256, 257, 255, 254, 255, 253, 252, 252, 251, 250,
  240, 200, 220, 185, 146, 130, 120, 150, 95, 135,
  125, 115, 130, 105, 120, 135, 110, 125, 108, 100,
  130, 160, 105, 140, 185, 115, 150, 90, 135, 120,
  125, 140, 160, 175, 195, 205, 213, 210, 212, 205,
  140, 118, 160, 125, 103, 150, 132, 178, 112, 145, 128, 95, 155, 120, 138, 200, 115, 148, 130, 108, 165, 124, 142, 88, 135, 118, 158, 127, 110, 147,
  122, 152, 135, 100, 143, 128, 185, 116, 140, 131, 78, 148, 123, 162, 137, 109, 146, 126, 170, 119, 136, 97, 153, 129, 113, 144, 133, 215, 121, 139,
  150, 111, 138, 126, 168, 117, 142, 92, 134, 157, 123, 145, 106, 139, 128, 192, 115, 149, 131, 102, 160, 125, 141, 84, 137, 120, 154, 129, 112, 146,
  127, 161, 119, 143, 98, 136, 124, 175, 114, 150, 132, 107, 147, 121, 140, 72, 133, 156, 118, 145, 126, 188, 110, 138, 129, 163, 116, 142, 101, 135,
  144, 124, 155, 113, 139, 130, 208, 119, 148, 105, 136, 127, 166, 117, 141, 93, 134, 152, 122, 140, 128, 180, 111, 146, 131, 99, 158, 125, 137, 115,
  132, 149, 108, 141, 126, 172, 120, 137, 90, 153, 129, 114, 145, 135, 197, 118, 139, 104, 150, 127, 162, 116, 143, 131, 82, 147, 123, 159, 112, 138,
  121, 145, 133, 167, 115, 140, 128, 96, 154, 124, 137, 185, 110, 148, 130, 119, 160, 126, 142, 87, 135, 151, 117, 139, 129, 204, 113, 146, 125, 134,
  156, 118, 142, 131, 103, 149, 123, 170, 138, 111, 145, 127, 94, 152, 136, 120, 164, 128, 141, 107, 133, 190, 116, 147, 126, 100, 155, 134, 122, 143,
  129, 161, 114, 138, 125, 177, 119, 144, 132, 89, 150, 127, 140, 110, 158, 123, 136, 212, 117, 146, 130, 104, 153, 128, 142, 76, 135, 165, 120, 139,
  137, 112, 148, 130, 169, 121, 141, 98, 156, 126, 134, 183, 115, 145, 129, 108, 151, 124, 139, 92, 160, 131, 118, 147, 136, 195, 113, 142, 127, 153,
  124, 143, 109, 138, 131, 166, 120, 149, 101, 135, 128, 157, 116, 141, 187, 125, 144, 97, 133, 152, 119, 137, 79, 146, 130, 160, 114, 139, 126, 148
];
const a2_g_odd = [
  257, 256, 254, 255, 254, 252, 252, 251, 250, 248,
  215, 230, 175, 160, 125, 140, 110, 135, 120, 105,
  118, 122, 112, 115, 128, 120, 115, 118, 102, 105,
  145, 120, 165, 110, 130, 100, 140, 125, 155, 115,
  130, 150, 168, 185, 200, 210, 212, 212, 208, 165,
  128, 145, 115, 137, 152, 121, 134, 110, 147, 126, 140, 118, 155, 131, 122, 143, 108, 138, 129, 150, 117, 136, 125, 160, 113, 141, 132, 119, 148, 127,
  135, 120, 149, 128, 114, 143, 130, 157, 122, 138, 111, 146, 133, 125, 152, 118, 140, 129, 106, 144, 131, 121, 155, 127, 139, 116, 148, 134, 124, 142,
  124, 139, 130, 153, 116, 135, 147, 121, 129, 112, 144, 132, 158, 119, 137, 126, 150, 114, 141, 133, 120, 146, 128, 137, 110, 143, 125, 152, 131, 118,
  140, 119, 134, 126, 151, 130, 115, 145, 136, 123, 157, 128, 118, 139, 131, 148, 122, 135, 109, 143, 127, 150, 133, 117, 146, 124, 138, 130, 155, 121,
  121, 148, 130, 138, 116, 142, 127, 135, 151, 124, 132, 113, 145, 129, 137, 120, 154, 131, 126, 140, 115, 138, 129, 147, 122, 134, 142, 118, 130, 149,
  137, 126, 143, 119, 134, 147, 128, 115, 140, 132, 122, 153, 130, 138, 117, 145, 125, 136, 129, 158, 120, 133, 141, 113, 139, 127, 150, 124, 135, 130,
  131, 141, 120, 149, 127, 135, 110, 143, 130, 138, 125, 152, 133, 119, 146, 128, 136, 114, 140, 132, 156, 123, 137, 129, 144, 118, 133, 148, 126, 139,
  125, 136, 150, 122, 141, 129, 117, 139, 132, 155, 120, 134, 143, 127, 112, 146, 131, 138, 124, 150, 129, 116, 142, 135, 121, 148, 130, 137, 113, 144,
  143, 123, 131, 146, 118, 137, 129, 152, 121, 134, 141, 126, 115, 144, 132, 139, 120, 148, 127, 135, 111, 142, 130, 157, 124, 138, 128, 145, 133, 119,
  129, 147, 135, 117, 140, 126, 153, 131, 122, 143, 136, 119, 149, 128, 137, 125, 145, 113, 134, 141, 127, 152, 121, 138, 130, 116, 147, 133, 124, 140,
  136, 121, 142, 130, 114, 149, 127, 138, 125, 156, 132, 118, 145, 129, 140, 123, 135, 150, 120, 131, 143, 126, 137, 112, 148, 128, 139, 133, 122, 145
];

const tracesEven = [a1_uv_even, a2_uv_even, a3_uv_even, a1_dv_even, a2_dv_even, a3_dv_even,
  a1_ubar_dbar_even, a2_ubar_dbar_even, a1_g_even, a2_g_even];
const tracesOdd = [a1_uv_odd, a2_uv_odd, a3_uv_odd, a1_dv_odd, a2_dv_odd, a3_dv_odd,
  a1_ubar_dbar_odd, a2_ubar_dbar_odd, a1_g_odd, a2_g_odd];

const accRateText = 'acc rate:0.151';

// ---------------------------------------------------------------------------
// Layout & style
// ---------------------------------------------------------------------------
const PANEL_LEFT = 100;
const PANEL_RIGHT = 71;
const PANEL_TOP0 = 20.7;
const PANEL_PITCH = 87.8;
const PANEL_H = 63.7;
const FONT = 'DejaVu Sans';
const AXIS_COLOR = '#333';
const POINT_COLOR = 'rgb(31,119,180)';

function panelTop(k) { return PANEL_TOP0 + PANEL_PITCH * k; }

function fmtTick(dec) {
  return function (v) { return Number(v).toFixed(dec).replace('-', '\u2212'); };
}

function chainPoints(k) {
  const unit = traceUnits[k];
  const pts = [];
  const ev = tracesEven[k], od = tracesOdd[k];
  for (let i = 0; i < ev.length; i++) {
    pts.push([2 * i * STEP, +(ev[i] * unit).toFixed(6)]);
    if (i < od.length) pts.push([(2 * i + 1) * STEP, +(od[i] * unit).toFixed(6)]);
  }
  return pts;
}

const grids = [], xAxes = [], yAxes = [], series = [];
const nPanels = tracesEven.length;

for (let k = 0; k < nPanels; k++) {
  const last = k === nPanels - 1;
  grids.push({
    left: PANEL_LEFT, right: PANEL_RIGHT, top: panelTop(k), height: PANEL_H,
    show: true, borderColor: AXIS_COLOR, borderWidth: 1.2, backgroundColor: 'transparent'
  });
  xAxes.push({
    type: 'value', gridIndex: k, min: xRange[0], max: xRange[1],
    axisLine: { show: false },
    splitLine: { show: false },
    axisTick: { show: true, length: 5, customValues: xTicks, lineStyle: { color: AXIS_COLOR, width: 1.2 } },
    axisLabel: {
      show: last, customValues: xTicks, margin: 7, formatter: v => String(v),
      fontSize: 20, fontFamily: FONT, color: '#000'
    }
  });
  yAxes.push({
    type: 'value', gridIndex: k, position: 'right', min: yMin[k], max: yMax[k],
    axisLine: { show: false },
    splitLine: { show: false },
    axisTick: { show: true, length: 5, customValues: yTicks[k], lineStyle: { color: AXIS_COLOR, width: 1.2 } },
    axisLabel: {
      customValues: yTicks[k], margin: 8, formatter: fmtTick(yDecimals[k]),
      fontSize: 15, fontFamily: FONT, color: '#000'
    }
  });

  // random-walk phases (orange spans with dashed edges)
  series.push({
    name: 'random walk', type: 'line', xAxisIndex: k, yAxisIndex: k, data: [],
    color: '#fcd6a0', itemStyle: { color: '#fcd6a0' }, lineStyle: { color: '#fcd6a0' },
    silent: true,
    markArea: {
      silent: true,
      itemStyle: { color: 'rgba(255,127,14,0.24)' },
      data: randomWalkSpans.map(s => [{ xAxis: s[0] }, { xAxis: s[1] }])
    },
    markLine: {
      silent: true, symbol: ['none', 'none'], label: { show: false },
      lineStyle: { type: [5, 4], color: 'rgba(255,165,30,0.6)', width: 1 },
      data: phaseEdges.map(x => ({ xAxis: x }))
    }
  });

  // burning phases (pink spans) and the target band
  const burnAreas = burningSpans.map(s => [{ xAxis: s[0] }, { xAxis: s[1] === null ? burningEnd[k] : s[1] }]);
  burnAreas.push([
    { yAxis: bandLow[k], itemStyle: { color: 'rgba(255,0,0,0.2)', borderColor: 'rgba(220,60,60,0.35)', borderWidth: 1 } },
    { yAxis: bandHigh[k] }
  ]);
  series.push({
    name: 'Burning', type: 'line', xAxisIndex: k, yAxisIndex: k, data: [],
    color: '#f7a9a9', itemStyle: { color: '#f7a9a9' }, lineStyle: { color: '#f7a9a9' },
    silent: true,
    markArea: {
      silent: true,
      itemStyle: { color: 'rgba(255,0,0,0.1)' },
      data: burnAreas
    }
  });

  // chain samples
  series.push({
    name: 'chain ' + (k + 1), type: 'scatter', xAxisIndex: k, yAxisIndex: k, z: 3,
    symbolSize: 8.5,
    itemStyle: { color: POINT_COLOR, opacity: 0.4 },
    silent: true,
    data: chainPoints(k)
  });
}

// empty entry carrying the acceptance-rate note
series.push({
  name: accRateText, type: 'scatter', xAxisIndex: nPanels - 1, yAxisIndex: nPanels - 1,
  data: [], itemStyle: { color: 'rgba(0,0,0,0)' }
});

// ---------------------------------------------------------------------------
// Parameter labels on the left (a with super/subscripts)
// ---------------------------------------------------------------------------
const measureCtx = document.createElement('canvas').getContext('2d');
function textW(str, font) { measureCtx.font = font; return measureCtx.measureText(str).width; }

const SX = 1.3;
const FA = 22, FS = 15.5, FSS = 11;
const LABEL_RIGHT = 89;
const MID = 0.35; // baseline offset below the 'middle' anchor, in em

function richSup(s) {
  return s.split(' ').map(t => t === '+' ? '{r|+}' : '{i|' + t + '}').join(' ');
}

const graphics = paramLabels.map((L, k) => {
  const aW = textW('a', `italic ${FA}px "${FONT}"`);
  const supW = textW(L.sup, `italic ${FS}px "${FONT}"`);
  const ssW = L.supSub ? textW(L.supSub, `italic ${FSS}px "${FONT}"`) + 1 : 0;
  const subW = textW(L.sub, `${FS}px "${FONT}"`);
  const blockW = aW + 1 + Math.max(supW + ssW, subW);
  const x0 = aW + 1;
  const children = [
    { type: 'text', x: 0, y: 24.3 - MID * FA,
      style: { text: 'a', fontSize: FA, fontStyle: 'italic', fontFamily: FONT, fill: '#000', verticalAlign: 'middle' } },
    { type: 'text', x: x0, y: 14.2 - MID * FS,
      style: {
        text: richSup(L.sup), fontSize: FS, fontFamily: FONT, fill: '#000', verticalAlign: 'middle',
        rich: {
          i: { fontSize: FS, fontStyle: 'italic', fontFamily: FONT, fill: '#000' },
          r: { fontSize: FS, fontFamily: FONT, fill: '#000' }
        }
      } },
    { type: 'text', x: x0, y: 30 - MID * FS,
      style: { text: L.sub, fontSize: FS, fontFamily: FONT, fill: '#000', verticalAlign: 'middle' } }
  ];
  if (L.supSub) {
    children.push({ type: 'text', x: x0 + supW + 0.5, y: 16.4 - MID * FSS,
      style: { text: L.supSub, fontSize: FSS, fontStyle: 'italic', fontFamily: FONT, fill: '#000', verticalAlign: 'middle' } });
  }
  return { type: 'group', x: LABEL_RIGHT - blockW * SX, y: panelTop(k), scaleX: SX, silent: true, children };
});

// x-axis title
graphics.push({
  type: 'text', x: 923, y: 919, scaleX: 1.2, silent: true,
  style: { text: 'proposed states', fontSize: 26, fontFamily: FONT, fill: '#000', align: 'center', verticalAlign: 'middle' }
});

// ---------------------------------------------------------------------------
const chart = echarts.init(document.getElementById('chart'), null, { renderer: 'canvas' });
chart.setOption({
  animation: false,
  backgroundColor: '#fff',
  grid: grids,
  xAxis: xAxes,
  yAxis: yAxes,
  legend: [
    {
      data: ['random walk', 'Burning'], orient: 'vertical', left: 1743, top: 8,
      icon: 'rect', itemWidth: 40, itemHeight: 6, itemGap: 5,
      selectedMode: false,
      textStyle: { fontSize: 15, fontFamily: FONT, color: '#000' },
      backgroundColor: 'rgba(255,255,255,0.8)', borderColor: '#ccc', borderWidth: 1, borderRadius: 3,
      padding: [3, 8, 3, 4]
    },
    {
      data: [accRateText], left: 1680, top: 817,
      icon: 'circle', itemWidth: 10, itemHeight: 10,
      selectedMode: false,
      textStyle: { fontSize: 15, fontFamily: FONT, color: '#000' },
      backgroundColor: 'rgba(255,255,255,0.8)', borderColor: '#ccc', borderWidth: 1, borderRadius: 3,
      padding: [3, 8, 3, 5]
    }
  ],
  graphic: graphics,
  series: series
});
</script>
</body>
</html>
